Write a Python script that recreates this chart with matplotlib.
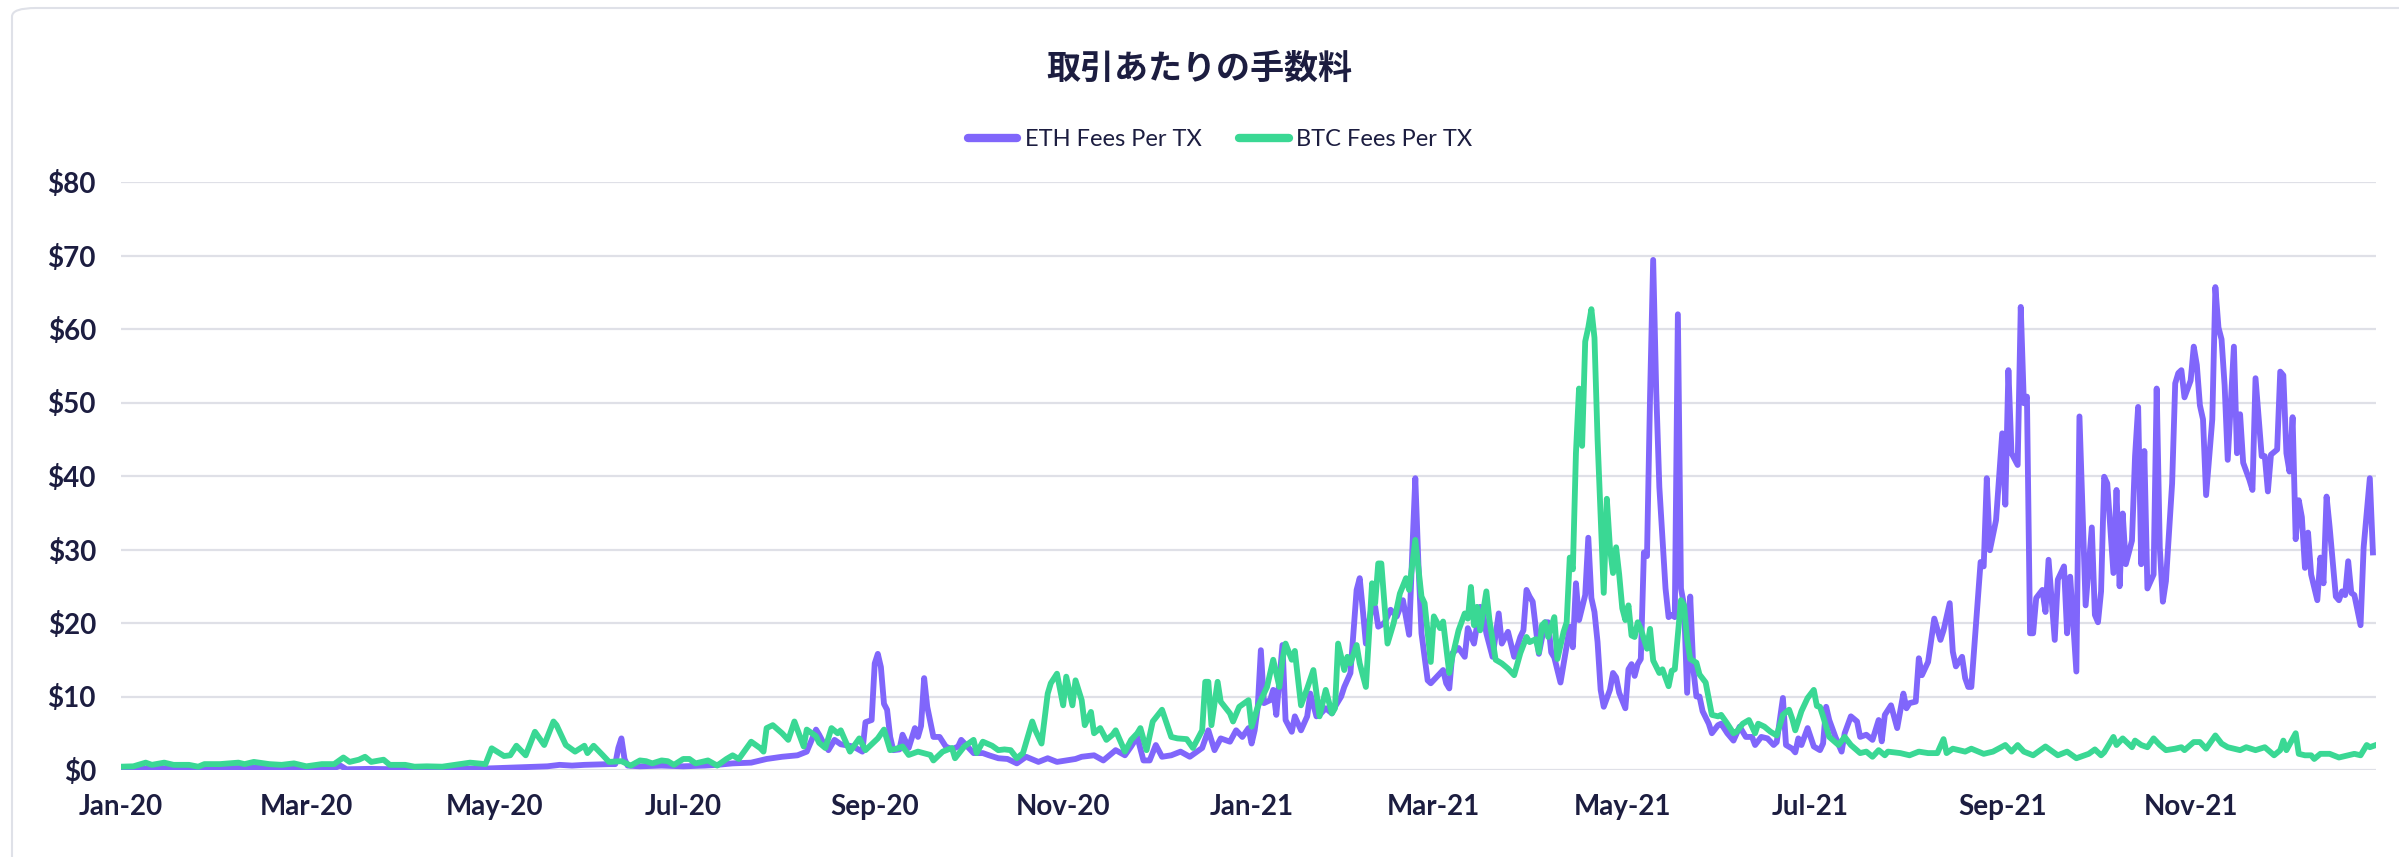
import pandas as pd
import matplotlib.pyplot as plt
import matplotlib.dates as mdates
from matplotlib.patches import FancyBboxPatch
from matplotlib.ticker import FuncFormatter, MultipleLocator

plt.rcParams['font.family'] = ['Lato', 'Noto Sans CJK JP', 'DejaVu Sans']

start = pd.Timestamp('2020-01-01')

# (days since 1 Jan 2020, USD fee per transaction)
eth_2020_h1 = [(0, 0.15), (7, 0.2), (14, 0.25), (21, 0.2), (28, 0.2), (35, 0.25), (42, 0.3), (49, 0.25),
               (56, 0.25), (63, 0.3), (69, 0.25), (71, 0.6), (73, 0.1), (80, 0.15), (90, 0.1), (100, 0.15),
               (110, 0.2), (118, 0.2), (125, 0.3), (132, 0.4), (138, 0.5), (142, 0.7), (146, 0.6), (150, 0.7),
               (154, 0.75), (158, 0.8), (160, 0.8), (161, 3.0), (162, 4.3), (163, 1.5), (164, 0.6), (168, 0.5),
               (175, 0.6)]
eth_2020_h2 = [(182, 0.5), (189, 0.6), (193, 0.7), (198, 0.9), (204, 1.0), (209, 1.5), (214, 1.8), (219, 2.0),
               (222, 2.5), (224, 4.5), (225, 5.5), (226, 4.8), (227, 4.0), (229, 2.7), (231, 4.1), (233, 3.5),
               (237, 3.2), (240, 2.5), (241, 6.5), (243, 6.8), (244, 14.5), (245, 15.8), (246, 14.0), (247, 9.0),
               (248, 8.2), (249, 4.5), (250, 2.7), (252, 2.8), (253, 4.8), (255, 3.0), (257, 5.7), (258, 4.5),
               (259, 6.0), (260, 12.5), (261, 8.6), (263, 4.5), (265, 4.5), (267, 3.2), (269, 2.8), (271, 3.2),
               (272, 4.1), (276, 2.3), (279, 2.3), (281, 2.0), (284, 1.6), (287, 1.5), (290, 0.9), (293, 1.8),
               (297, 1.1), (300, 1.6), (303, 1.1), (306, 1.3), (309, 1.5), (311, 1.8), (315, 2.0), (318, 1.3),
               (322, 2.7), (325, 2.0), (327, 3.2), (329, 4.5), (331, 1.3), (333, 1.3), (335, 3.4), (337, 1.8),
               (340, 2.0), (343, 2.5), (346, 1.8), (350, 3.0), (352, 5.4), (354, 2.7), (356, 4.3), (359, 3.85),
               (361, 5.4), (363, 4.5), (365, 5.7)]
eth_2021_h1 = [(366, 3.6), (367, 5.4), (368, 8.6), (369, 16.3), (370, 9.1), (372, 9.5), (373, 10.9), (374, 7.5),
               (376, 17.0), (377, 6.8), (379, 5.2), (380, 7.3), (382, 5.4), (384, 7.3), (385, 10.4), (387, 7.3),
               (388, 7.5), (390, 8.4), (392, 7.7), (393, 8.6), (395, 10.0), (396, 11.3), (398, 13.2), (400, 24.5),
               (401, 26.1), (402, 21.8), (403, 17.2), (405, 22.7), (406, 22.2), (407, 19.5), (409, 20.0), (411, 21.8),
               (413, 20.9), (415, 23.1), (417, 18.4), (418, 29.5), (419, 39.7), (420, 28.1), (421, 18.6), (423, 12.2),
               (424, 11.8), (426, 12.7), (428, 13.6), (429, 11.8), (430, 11.1), (431, 15.9), (433, 16.6), (435, 15.4),
               (436, 19.3), (438, 17.2), (440, 22.2), (441, 21.1), (442, 18.6), (444, 15.4), (446, 21.3), (447, 17.2),
               (449, 18.8), (451, 15.4), (453, 18.1), (454, 19.0), (455, 24.5), (456, 23.6), (457, 22.9), (459, 15.8),
               (461, 20.1), (462, 20.1), (463, 16.0), (464, 15.3), (466, 11.9), (468, 16.9), (469, 19.5), (470, 16.7),
               (471, 25.4), (472, 20.4), (474, 23.8), (475, 31.6), (476, 23.4), (477, 21.5), (478, 17.4), (479, 10.9),
               (480, 8.6), (482, 10.9), (483, 13.2), (484, 12.6), (485, 10.5), (487, 8.4), (488, 13.7), (489, 14.4),
               (490, 12.8), (491, 14.4), (492, 15.1), (493, 29.6), (494, 29.1), (495, 51.0), (496, 69.4), (497, 51.4),
               (498, 38.5), (500, 24.7), (501, 20.8), (502, 21.1), (503, 20.8), (504, 62.0), (505, 24.7), (506, 22.4),
               (507, 10.5), (508, 23.6), (509, 13.7), (510, 10.0), (511, 10.0), (512, 8.0), (514, 6.3), (515, 5.0),
               (517, 6.1), (518, 6.3), (520, 5.0), (522, 4.0), (524, 5.9), (526, 4.5), (528, 4.5), (529, 3.4),
               (531, 4.5), (533, 4.3), (535, 3.4), (536, 3.8), (538, 9.8), (539, 3.4), (541, 2.9), (542, 2.4),
               (543, 4.3), (544, 3.4), (546, 5.7)]
eth_2021_h2 = [(548, 3.2), (550, 2.7), (551, 3.6), (552, 8.6), (553, 6.8), (555, 4.5), (557, 2.5), (558, 5.0),
               (560, 7.3), (562, 6.6), (563, 4.5), (565, 4.8), (567, 4.1), (569, 6.8), (570, 3.9), (571, 7.5),
               (573, 8.8), (575, 5.7), (577, 10.4), (578, 8.4), (579, 9.1), (581, 9.3), (582, 15.2), (583, 12.9),
               (585, 14.7), (587, 20.6), (589, 17.7), (590, 19.0), (592, 22.7), (593, 16.1), (594, 14.1), (596, 15.4),
               (597, 12.5), (598, 11.3), (599, 11.3), (602, 28.3), (603, 27.7), (604, 39.7), (605, 29.9), (607, 34.0),
               (609, 45.8), (610, 36.1), (611, 54.4), (612, 43.1), (614, 41.5), (615, 63.0), (616, 49.9), (617, 50.8),
               (618, 18.6), (619, 18.6), (620, 23.4), (622, 24.5), (623, 21.5), (624, 28.6), (626, 17.7), (627, 25.9),
               (629, 27.7), (630, 18.6), (631, 26.3), (633, 13.4), (634, 48.1), (636, 22.4), (638, 33.0), (639, 21.1),
               (640, 20.1), (641, 24.3), (642, 39.9), (643, 39.0), (645, 26.8), (646, 38.1), (647, 25.0), (648, 34.9),
               (649, 28.0), (651, 31.2), (652, 42.7), (653, 49.4), (654, 28.0), (655, 43.4), (656, 24.7), (658, 26.6),
               (659, 51.9), (660, 30.3), (661, 22.9), (662, 25.7), (664, 39.0), (665, 52.6), (666, 54.0), (667, 54.4),
               (668, 50.7), (670, 53.0), (671, 57.6), (672, 55.1), (673, 49.6), (674, 47.7), (675, 37.4), (677, 47.7),
               (678, 65.7), (679, 60.2), (680, 58.6), (681, 52.3), (682, 42.2), (684, 57.6), (685, 43.1), (686, 48.4),
               (687, 41.8), (689, 39.5), (690, 38.1), (691, 53.3), (693, 42.7), (694, 42.7), (695, 37.9), (696, 42.9),
               (698, 43.6), (699, 54.2), (700, 53.7), (701, 43.1), (702, 40.6), (703, 48.0), (704, 31.4), (705, 36.7),
               (706, 34.4), (707, 27.5), (708, 32.3), (709, 26.6), (711, 23.1), (712, 28.9), (713, 25.4), (714, 37.2),
               (715, 33.0), (717, 23.6), (718, 23.1), (719, 24.3), (720, 23.8), (721, 28.4), (722, 24.1), (723, 23.8),
               (725, 19.7), (726, 30.3), (728, 39.7), (729, 29.6)]

btc_2020_h1 = [(0, 0.45), (4, 0.5), (8, 1.0), (10, 0.7), (14, 1.0), (17, 0.7), (22, 0.7), (25, 0.45), (27, 0.8),
               (32, 0.8), (38, 1.0), (40, 0.8), (43, 1.1), (48, 0.8), (52, 0.7), (56, 0.9), (60, 0.5), (65, 0.8),
               (69, 0.8), (72, 1.7), (74, 1.1), (77, 1.4), (79, 1.8), (81, 1.1), (85, 1.4), (87, 0.7), (92, 0.7),
               (95, 0.45), (99, 0.5), (104, 0.45), (108, 0.7), (113, 1.0), (118, 0.8), (120, 2.95), (124, 1.9),
               (126, 2.0), (128, 3.3), (131, 2.0), (134, 5.2), (137, 3.4), (140, 6.6), (141, 6.1), (144, 3.4),
               (147, 2.5), (150, 3.3), (151, 2.3), (153, 3.3), (156, 2.0), (158, 1.1), (162, 1.2), (165, 0.6),
               (168, 1.3), (170, 1.2), (172, 0.9), (175, 1.3), (177, 1.2), (179, 0.7)]
btc_2020_h2 = [(182, 1.5), (184, 1.5), (186, 0.9), (189, 1.2), (190, 1.3), (193, 0.6), (196, 1.5), (198, 2.0),
               (200, 1.5), (204, 3.85), (207, 2.95), (208, 2.5), (209, 5.7), (211, 6.1), (214, 5.0), (216, 4.1),
               (218, 6.6), (221, 3.2), (222, 5.5), (225, 4.6), (226, 3.7), (228, 3.0), (230, 5.7), (232, 5.0),
               (233, 5.4), (236, 2.5), (238, 3.7), (239, 4.3), (241, 2.7), (245, 4.3), (247, 5.5), (249, 2.7),
               (251, 2.9), (253, 3.2), (255, 2.05), (258, 2.5), (262, 2.05), (263, 1.3), (266, 2.5), (269, 3.0),
               (270, 1.6), (273, 3.2), (276, 4.1), (277, 2.3), (279, 3.85), (282, 3.3), (284, 2.7), (286, 2.8),
               (288, 2.7), (290, 1.6), (292, 2.3), (295, 6.6), (296, 5.4), (298, 3.6), (300, 10.4), (301, 11.8),
               (303, 13.1), (305, 8.8), (306, 12.7), (308, 8.8), (309, 12.2), (311, 9.5), (312, 6.1), (314, 7.9),
               (315, 5.0), (317, 5.7), (319, 4.1), (321, 4.8), (322, 5.4), (325, 2.5), (327, 4.1), (329, 5.0),
               (330, 5.7), (332, 2.7), (334, 6.6), (337, 8.2), (340, 4.5), (342, 4.3), (345, 4.2), (347, 3.0),
               (350, 5.4), (351, 12.0), (352, 12.0), (353, 6.1), (355, 12.0), (356, 9.3), (359, 7.7), (360, 6.6),
               (362, 8.6), (365, 9.5)]
btc_2021_h1 = [(366, 5.9), (368, 8.6), (371, 11.3), (373, 15.0), (375, 11.3), (376, 15.0), (377, 17.2), (379, 15.0),
               (380, 16.2), (382, 8.8), (384, 11.1), (386, 13.6), (388, 7.3), (390, 10.9), (392, 7.7), (393, 8.4),
               (394, 17.2), (396, 13.6), (397, 15.4), (398, 14.5), (400, 17.0), (401, 14.5), (403, 11.3), (405, 25.4),
               (406, 22.7), (407, 28.1), (408, 28.1), (410, 17.2), (412, 20.0), (414, 24.0), (416, 26.1), (417, 24.5),
               (419, 31.3), (421, 23.6), (422, 22.7), (424, 14.7), (425, 20.9), (427, 19.3), (428, 20.2), (430, 13.2),
               (431, 15.4), (433, 19.0), (435, 21.3), (436, 20.6), (437, 24.9), (438, 19.7), (439, 22.2), (440, 19.0),
               (442, 24.3), (443, 20.4), (445, 15.0), (447, 14.5), (449, 13.8), (451, 12.9), (453, 15.9), (455, 18.1),
               (456, 17.4), (458, 17.8), (459, 16.0), (460, 19.7), (461, 20.1), (462, 18.1), (464, 20.8), (465, 15.1),
               (467, 18.8), (468, 20.1), (469, 28.9), (470, 27.3), (471, 43.1), (472, 51.9), (473, 44.1), (474, 58.3),
               (475, 60.2), (476, 62.7), (477, 58.8), (478, 45.0), (480, 24.1), (481, 36.9), (482, 30.3), (483, 26.8),
               (484, 30.3), (485, 26.6), (486, 22.0), (487, 20.4), (488, 22.4), (489, 18.3), (490, 18.1), (491, 20.1),
               (492, 19.2), (494, 16.5), (495, 19.2), (496, 14.9), (498, 13.2), (499, 13.7), (501, 11.4), (502, 13.5),
               (503, 13.7), (505, 23.1), (506, 22.4), (507, 17.8), (508, 15.1), (510, 14.6), (511, 13.0), (513, 11.9),
               (515, 7.5), (517, 7.3), (518, 7.5), (520, 6.3), (522, 5.0), (523, 5.2), (525, 6.3), (527, 6.8),
               (529, 5.0), (530, 6.3), (532, 5.9), (534, 5.2), (536, 4.7), (538, 7.5), (540, 8.2), (541, 7.0),
               (542, 5.4), (544, 8.0), (546, 9.8)]
btc_2021_h2 = [(548, 10.9), (549, 8.7), (550, 8.6), (551, 7.3), (553, 4.5), (556, 3.4), (558, 4.5), (560, 3.4),
               (563, 2.3), (565, 2.5), (567, 1.8), (569, 2.7), (571, 2.0), (572, 2.5), (576, 2.3), (579, 2.0),
               (582, 2.5), (585, 2.3), (588, 2.3), (590, 4.2), (591, 2.3), (593, 2.9), (597, 2.5), (599, 2.9),
               (603, 2.2), (606, 2.5), (610, 3.4), (612, 2.5), (614, 3.4), (616, 2.5), (619, 2.0), (623, 3.2),
               (627, 2.0), (630, 2.5), (633, 1.6), (637, 2.2), (639, 2.8), (641, 2.0), (642, 2.4), (645, 4.5),
               (646, 3.4), (648, 4.3), (651, 3.1), (652, 4.0), (654, 3.4), (656, 3.1), (658, 4.3), (660, 3.4),
               (662, 2.7), (665, 2.9), (667, 3.1), (668, 2.7), (671, 3.8), (673, 3.8), (675, 2.9), (678, 4.7),
               (680, 3.6), (682, 3.1), (684, 2.9), (686, 2.7), (688, 3.1), (691, 2.7), (694, 3.1), (697, 2.0),
               (699, 2.7), (700, 4.0), (701, 2.7), (704, 5.0), (705, 2.2), (707, 2.0), (709, 2.0), (710, 1.5),
               (712, 2.2), (715, 2.2), (718, 1.7), (721, 2.0), (723, 2.2), (725, 2.0), (727, 3.4), (728, 3.1),
               (730, 3.4)]

title = '取引あたりの手数料'
eth_label = 'ETH Fees Per TX'
btc_label = 'BTC Fees Per TX'

navy = '#1c1d40'
purple = '#8066fb'
green = '#3ad894'
grid_c = '#dfe0e7'


def series(*parts):
    pts = [p for part in parts for p in part]
    days = [d for d, _ in pts]
    vals = [v for _, v in pts]
    return start + pd.to_timedelta(days, unit='D'), vals


eth_x, eth_y = series(eth_2020_h1, eth_2020_h2, eth_2021_h1, eth_2021_h2)
btc_x, btc_y = series(btc_2020_h1, btc_2020_h2, btc_2021_h1, btc_2021_h2)

W, H = 2399, 857
fig = plt.figure(figsize=(W / 100, H / 100), dpi=100)

# light card border (only top and left edges fall inside the picture)
fig.patches.append(FancyBboxPatch((12 / W, -0.2), 1.2, 1.2 - 8 / H,
                                  boxstyle='round,pad=0,rounding_size=0.01',
                                  transform=fig.transFigure, fill=False,
                                  ec='#dfe1e8', lw=1.5, zorder=0))

ax = fig.add_axes([121 / W, 87 / H, 2255 / W, 588 / H])
ax.plot(eth_x, eth_y, color=purple, lw=4.2, solid_joinstyle='round', label=eth_label, zorder=3)
ax.plot(btc_x, btc_y, color=green, lw=4.2, solid_joinstyle='round', label=btc_label, zorder=4)

ax.set_xlim(start, start + pd.Timedelta(days=730))
ax.set_ylim(0, 80)
ax.yaxis.set_major_locator(MultipleLocator(10))
ax.yaxis.set_major_formatter(FuncFormatter(lambda v, _: '\\$%d' % v))
ax.xaxis.set_major_locator(mdates.MonthLocator(bymonth=[1, 3, 5, 7, 9, 11]))
ax.xaxis.set_major_formatter(mdates.DateFormatter('%b-%y'))
ax.grid(axis='y', color=grid_c, lw=1.6, zorder=0)
ax.set_axisbelow(True)
for s in ax.spines.values():
    s.set_visible(False)
ax.tick_params(axis='both', length=0, labelsize=20, colors=navy)
ax.tick_params(axis='y', pad=18)
ax.tick_params(axis='x', pad=17)
for lab in ax.get_xticklabels() + ax.get_yticklabels():
    lab.set_fontweight('bold')

fig.text(0.5, 1 - 68 / H, title, ha='center', va='center', fontsize=24.5, fontweight='bold',
         color=navy, family=['Noto Sans CJK JP', 'DejaVu Sans'])

leg = fig.legend(loc='center', bbox_to_anchor=(1220 / W, 1 - 140 / H), ncol=2, frameon=False,
                 fontsize=17, handlelength=2.1, handletextpad=0.3, columnspacing=1.6)
for t in leg.get_texts():
    t.set_color(navy)
for h in leg.get_lines():
    h.set_linewidth(6)
    h.set_solid_capstyle('round')

fig.savefig('out.png', dpi=100)
